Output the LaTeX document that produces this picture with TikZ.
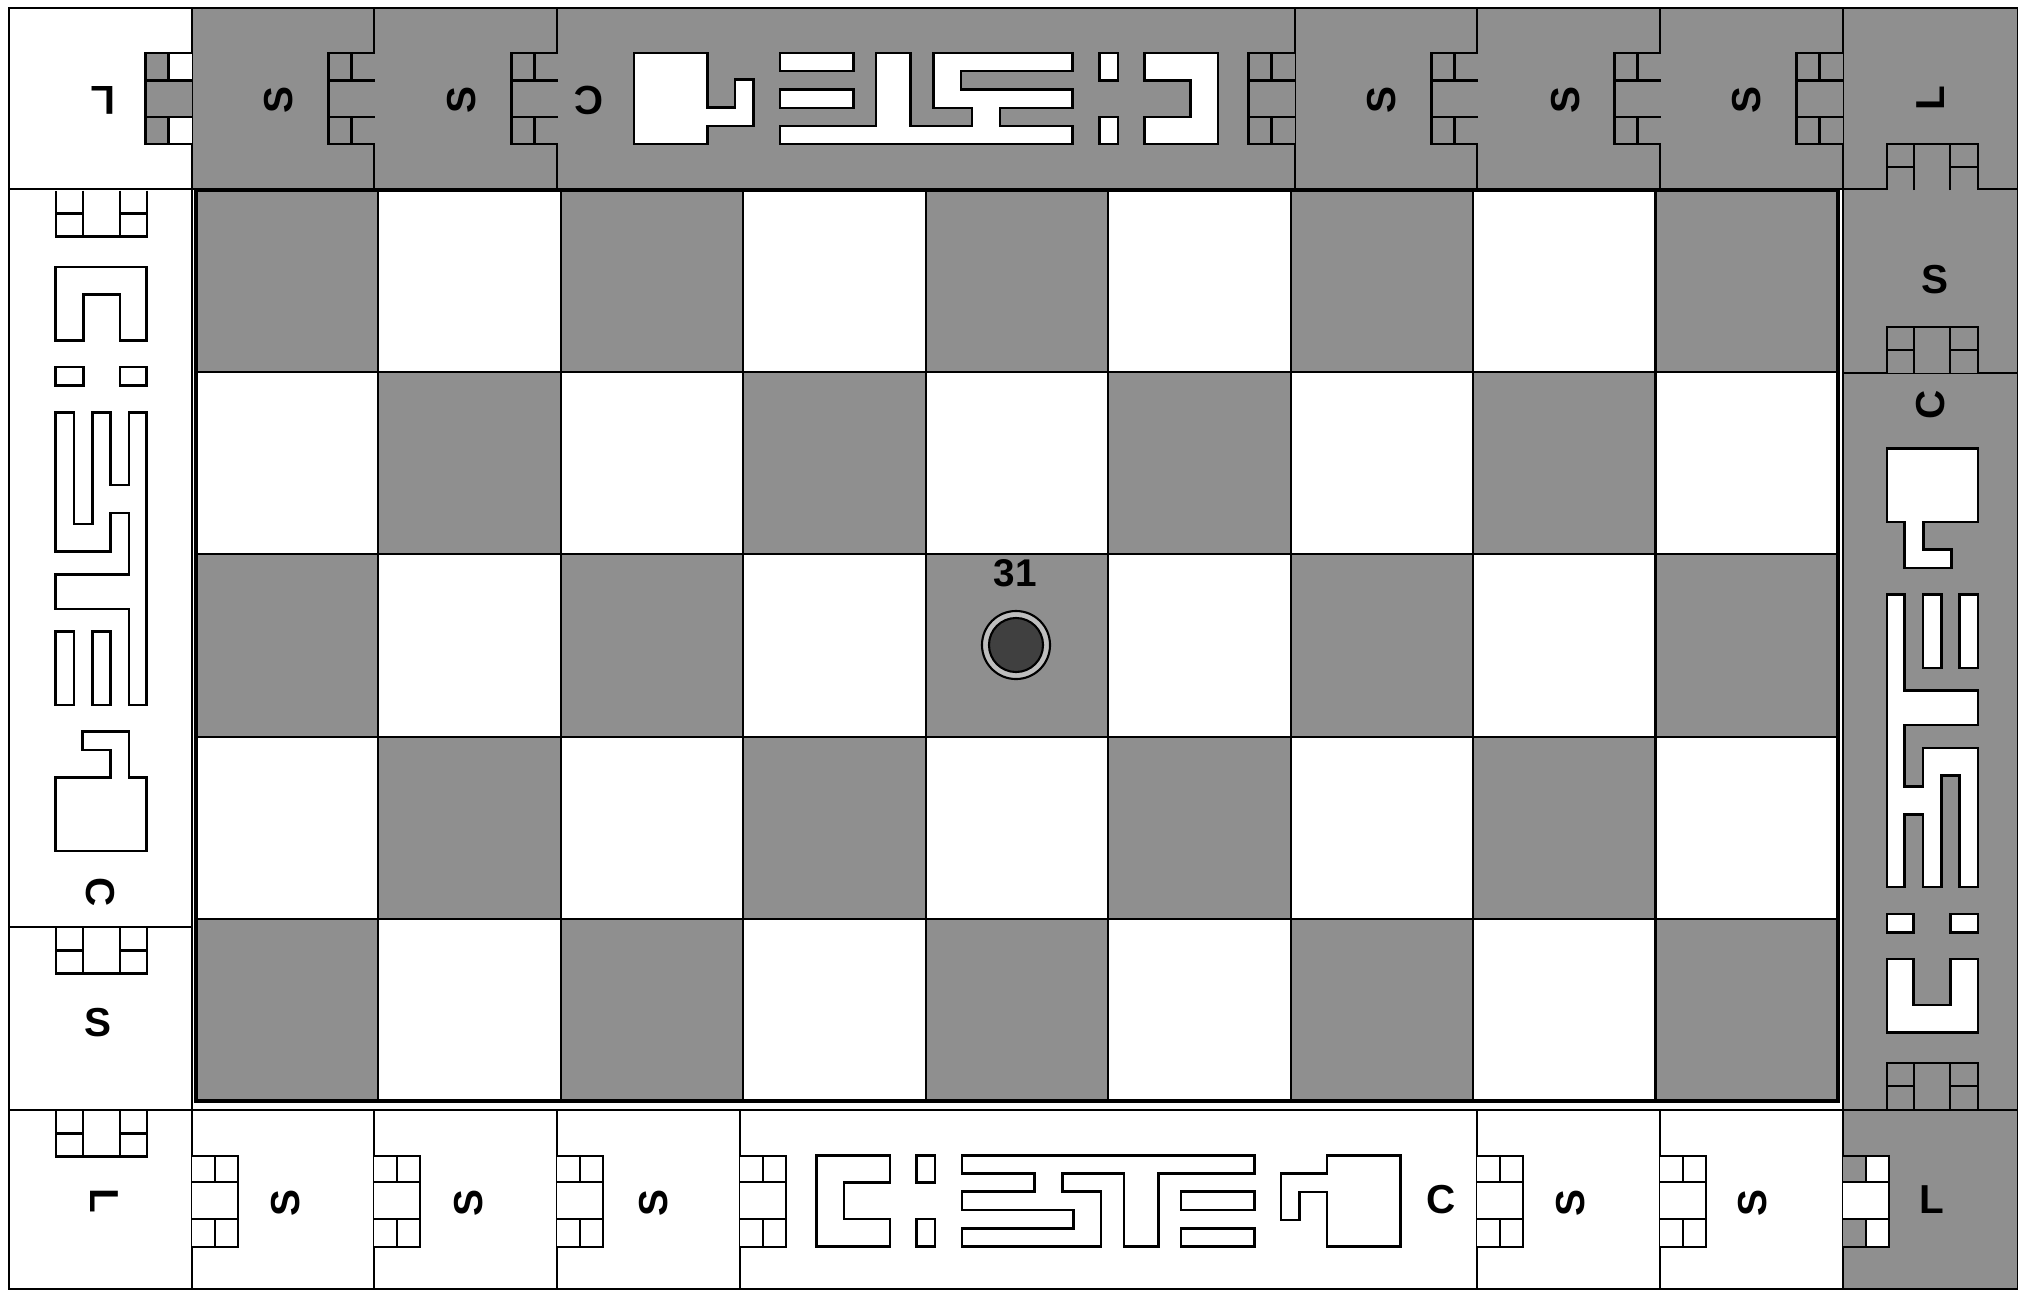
\documentclass[tikz,border=0pt]{standalone}
\usepackage{fontspec}
\setmainfont{Liberation Sans}
\definecolor{bd}{RGB}{143,143,143}
\definecolor{tok}{RGB}{64,64,64}
\definecolor{ringc}{RGB}{190,190,190}
\tikzset{
  ln/.style={line width=0.6pt, draw=black},
  lbl/.style={font=\fontsize{11.5}{12}\selectfont\bfseries, inner sep=0pt},
  glyph/.style={draw=black, line width=0.7pt, fill=white, line join=miter},
}
\newcommand\glyphstrip{%
  \draw[glyph] (76.3,0) -- (149.8,0) -- (149.8,26.6) -- (103.9,26.6) -- (103.9,63.3) -- (149.8,63.3) -- (149.8,91) -- (76.3,91) -- cycle;
  \draw[glyph] (176.4,0) rectangle (195.2,26.6);
  \draw[glyph] (176.4,63.3) rectangle (195.2,91);
  \draw[glyph] (221.9,0) -- (514.3,0) -- (514.3,17.6) -- (418.4,17.6) -- (418.4,91) -- (383.9,91) -- (383.9,17.6) -- (322.4,17.6) -- (322.4,36) -- (361,36) -- (361,91) -- (221.9,91) -- (221.9,72.6) -- (333.4,72.6) -- (333.4,54.3) -- (221.9,54.3) -- (221.9,36) -- (294.4,36) -- (294.4,17.6) -- (221.9,17.6) -- cycle;
  \draw[glyph] (440.9,36) rectangle (514.3,54.3);
  \draw[glyph] (440.9,72.6) rectangle (514.3,91);
  \draw[glyph] (586.9,0) -- (660.3,0) -- (660.3,91) -- (586.9,91) -- (586.9,36.3) -- (559.3,36.3) -- (559.3,64.3) -- (541,64.3) -- (541,17.6) -- (586.9,17.6) -- cycle;
}
\newcommand\conn[2]{%
  \fill[#2] (0,0) rectangle (46,91);
  \fill[#1] (0,0) rectangle (23,26.6);
  \fill[#1] (0,63.3) rectangle (23,91);
  \draw[ln] (0,0) -- (46,0) -- (46,91) -- (0,91);
  \draw[ln] (0,26.6) -- (46,26.6) (0,63.3) -- (46,63.3);
  \draw[ln] (23,0) -- (23,26.6) (23,63.3) -- (23,91);
}
\begin{document}
\begin{tikzpicture}[x=0.01cm, y=-0.01cm]
\useasboundingbox (0,0) rectangle (2018,1290);
\fill[white] (0,0) rectangle (2018,1290);
% perimeter fills
\fill[bd] (193,8) rectangle (2018,189);
\fill[bd] (1843,8) rectangle (2018,1289);
% board
\foreach \r in {0,...,4}{
  \foreach \c in {0,...,8}{
    \pgfmathtruncatemacro\cpar{mod(\r+\c,2)}
    \ifnum\cpar=0 \def\cfill{bd}\else\def\cfill{white}\fi
    \draw[ln, fill=\cfill] ({196+\c*182.44},{190+\r*182.2}) rectangle ++(182.44,182.2);
  }
}
\draw[line width=1pt] (196,190) rectangle (1838,1101);
% perimeter lines
\draw[ln] (9,8) rectangle (2018,1289);
\draw[ln] (9,189) -- (2018,189);
\draw[ln] (9,1110) -- (2018,1110);
\draw[ln] (192,8) -- (192,1289);
\draw[ln] (1843,8) -- (1843,1289);
\foreach \x in {374,557,1295,1477,1660} \draw[ln] (\x,8) -- (\x,189);
\foreach \x in {374,557,740,1477,1660} \draw[ln] (\x,1110) -- (\x,1289);
\draw[ln] (9,927) -- (192,927);
\draw[ln] (1843,373) -- (2018,373);
% glyph strips
\begin{scope}[shift={(740,1155.7)}] \glyphstrip \end{scope}
\begin{scope}[shift={(1294.5,143.8)}, rotate=180] \glyphstrip \end{scope}
\begin{scope}[shift={(146.7,190.5)}, rotate=-90] \glyphstrip \end{scope}
\begin{scope}[shift={(1887,1109)}, rotate=90] \glyphstrip \end{scope}
% connectors
\foreach \b in {192,374,557,740,1477,1660}{
  \begin{scope}[shift={(\b,1155.7)}] \conn{white}{white} \end{scope}
}
\begin{scope}[shift={(1843,1155.7)}] \conn{bd}{white} \end{scope}
\foreach \b in {1842.5,1660.5,1477.5,1294.5,557.5,374.5}{
  \begin{scope}[shift={(\b,143.8)}, rotate=180] \conn{bd}{bd} \end{scope}
}
\begin{scope}[shift={(191.5,143.8)}, rotate=180] \conn{white}{bd} \end{scope}
\foreach \b in {190.5,927.5,1110.5}{
  \begin{scope}[shift={(146.7,\b)}, rotate=-90] \conn{white}{white} \end{scope}
}
\foreach \b in {1109,373,190}{
  \begin{scope}[shift={(1887,\b)}, rotate=90] \conn{bd}{bd} \end{scope}
}
% letters: top row
\node[lbl, rotate=180] (tL1) at (103,100) {L};
\node[lbl, rotate=90] (tS1) at (279,100) {S};
\node[lbl, rotate=90] (tS2) at (462,100) {S};
\node[lbl, rotate=180] (tC) at (589,100) {C};
\node[lbl, rotate=90] (tS3) at (1382,100) {S};
\node[lbl, rotate=90] (tS4) at (1566,100) {S};
\node[lbl, rotate=90] (tS5) at (1747,100) {S};
\node[lbl, rotate=90] (tL2) at (1931,98) {L};
% right column
\node[lbl] (rS) at (1935,280) {S};
\node[lbl, rotate=90] (rC) at (1931,405) {C};
\node[lbl] (rL) at (1932,1200) {L};
% bottom row
\node[lbl, rotate=-90] (bL) at (104,1201) {L};
\node[lbl, rotate=90] (bS1) at (286,1203) {S};
\node[lbl, rotate=90] (bS2) at (469,1203) {S};
\node[lbl, rotate=90] (bS3) at (654,1203) {S};
\node[lbl] (bC) at (1441,1200) {C};
\node[lbl, rotate=90] (bS4) at (1571,1203) {S};
\node[lbl, rotate=90] (bS5) at (1753,1203) {S};
% left column
\node[lbl, rotate=-90] (lC) at (100,892) {C};
\node[lbl] (lS) at (98,1023) {S};
% token
\node[lbl, font=\fontsize{11}{12}\selectfont\bfseries] (num) at (1015,573) {31};
\node[circle, draw=black, line width=0.6pt, fill=ringc, minimum size=6.8mm, inner sep=0pt] (ring) at (1016,645) {};
\node[circle, draw=black, line width=0.6pt, fill=tok, minimum size=5.4mm, inner sep=0pt] (token) at (1016,645) {};
\end{tikzpicture}
\end{document}
